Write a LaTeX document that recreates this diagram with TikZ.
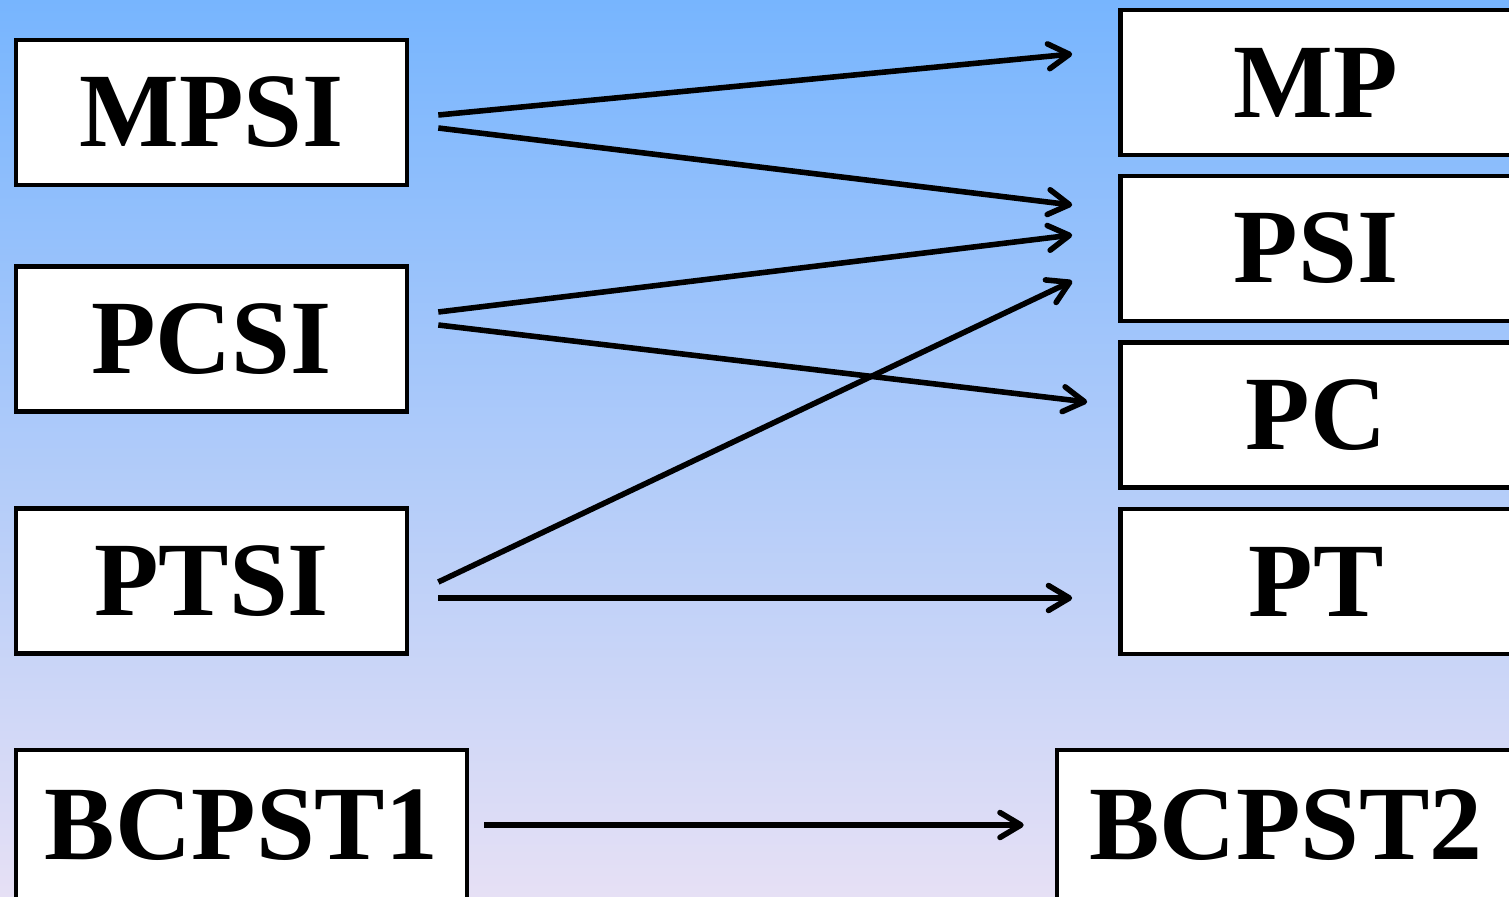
\documentclass[tikz,border=0pt]{standalone}
\usepackage{fontspec}
\setmainfont{Liberation Serif}
\usetikzlibrary{arrows.meta}
\definecolor{bgtop}{RGB}{119,181,254}
\definecolor{bgbot}{RGB}{230,224,245}
\tikzset{
  classe/.style={draw,rectangle,fill=white,line width=2.3pt,inner sep=0pt,
    minimum width=195.5bp,minimum height=72.5bp,
    font=\fontsize{53}{60}\selectfont\bfseries},
  large/.style={classe,minimum width=225.5bp,minimum height=75bp},
  fleche/.style={->,line width=2.8pt},
  >={Straight Barb[length=10.5pt,width=12.5pt,line cap=round,line join=round]}
}
\begin{document}
\begin{tikzpicture}[x=0.5bp,y=-0.5bp]
  \useasboundingbox (0,0) rectangle (1509,896);
  \clip (0,0) rectangle (1509,896);
  \shade[top color=bgtop,bottom color=bgbot] (0,0) rectangle (1509,896);
  \node (MPSI) at (211.5,112.5) [classe] {MPSI};
  \node (PCSI) at (211.5,339.0) [classe] {PCSI};
  \node (PTSI) at (211.5,581.0) [classe] {PTSI};
  \node (BCPST1) at (241.5,825.0) [large] {BCPST1};
  \node (MP) at (1316.0,82.5) [classe] {MP};
  \node (PSI) at (1316.0,248.5) [classe] {PSI};
  \node (PC) at (1316.0,415.0) [classe] {PC};
  \node (PT) at (1316.0,581.5) [classe] {PT};
  \node (BCPST2) at (1286.0,825.0) [large,minimum width=229bp] {BCPST2};
  \draw [fleche] ([shift={(29,2.5)}]MPSI.east) -- ([shift={(-46,-28.5)}]MP.west);
  \draw [fleche] ([shift={(29,15.5)}]MPSI.east) -- ([shift={(-46,-43.5)}]PSI.west);
  \draw [fleche] ([shift={(29,-27)}]PCSI.east) -- ([shift={(-46,-13.5)}]PSI.west);
  \draw [fleche] ([shift={(29,-14)}]PCSI.east) -- ([shift={(-31,-13)}]PC.west);
  \draw [fleche] ([shift={(29,1)}]PTSI.east) -- ([shift={(-46,32.5)}]PSI.west);
  \draw [fleche] ([shift={(29,17)}]PTSI.east) -- ([shift={(-46,16.5)}]PT.west);
  \draw [fleche] ([shift={(15,0)}]BCPST1.east) -- ([shift={(-31,0)}]BCPST2.west);
\end{tikzpicture}
\end{document}
